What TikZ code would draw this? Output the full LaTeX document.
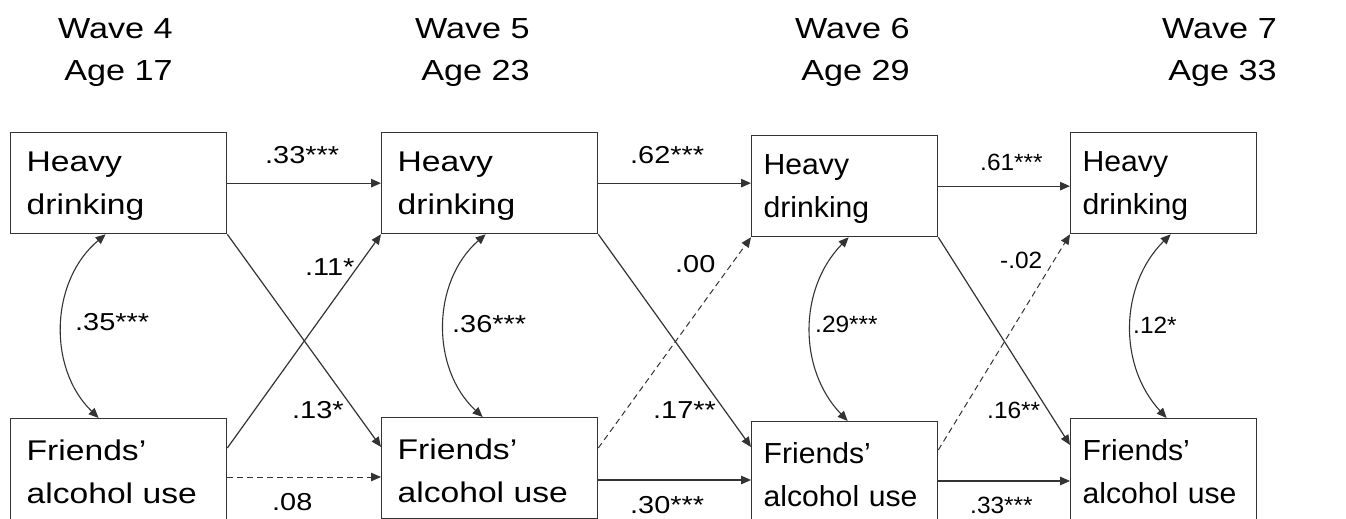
\documentclass[tikz,border=0pt]{standalone}
\usepackage{fontspec}
\setmainfont{Liberation Sans}[FakeStretch=1.18, Ligatures=TeX]
\newfontfamily\narrowsans{Liberation Sans}[FakeStretch=1.04, Ligatures=TeX]
\usetikzlibrary{arrows.meta,calc}

% a little head room above the first line of a box label
\newcommand{\toproom}{\rule{0pt}{25pt}}

\tikzset{
  ink/.style={draw=black!80, line width=1.3pt},
  wide box/.style={ink, rectangle, anchor=north west, inner xsep=16pt, inner ysep=0pt,
    text width=184pt, minimum height=101pt, align=left,
    font=\fontsize{28.5}{43}\selectfont},
  slim box/.style={wide box, inner xsep=12pt, text width=162pt,
    font=\narrowsans\fontsize{29}{43}\selectfont},
  head/.style={anchor=base east, inner sep=0pt, font=\fontsize{29}{35}\selectfont},
  coef/.style={anchor=base west, inner sep=0pt, font=\fontsize{24.5}{28}\selectfont},
  coefR/.style={coef, font=\narrowsans\fontsize{23.5}{28}\selectfont},
  tip/.tip={Triangle[length=10pt,width=8.5pt]},
  path/.style={ink, line width=1.2pt, -tip},
  weak/.style={path, dash pattern=on 6pt off 4pt, line width=1pt},
  corr/.style={ink, line width=1.1pt, tip-tip},
}

\begin{document}
\begin{tikzpicture}[x=1pt, y=1pt]
\useasboundingbox (0,0) rectangle (1346,-519);
\clip (0,0) rectangle (1346,-519);

% column headers
\node[head] (w4) at (173,-38) {Wave 4};
\node[head] (a4) at (173,-81) {Age 17};
\node[head] (w5) at (530,-38) {Wave 5};
\node[head] (a5) at (530,-81) {Age 23};
\node[head] (w6) at (910,-38) {Wave 6};
\node[head] (a6) at (910,-81) {Age 29};
\node[head] (w7) at (1277,-38) {Wave 7};
\node[head] (a7) at (1277,-81) {Age 33};

% heavy drinking row
\node[wide box] (hd1) at (10,-132)   {\toproom Heavy\\drinking};
\node[wide box] (hd2) at (381,-132)  {\toproom Heavy\\drinking};
\node[slim box] (hd3) at (751,-135)  {\toproom Heavy\\drinking};
\node[slim box] (hd4) at (1070,-132) {\toproom Heavy\\drinking};

% friends' alcohol use row
\node[wide box] (f1) at (10,-418)   {\toproom Friends'\\alcohol use};
\node[wide box] (f2) at (381,-417)  {\toproom Friends'\\alcohol use};
\node[slim box] (f3) at (751,-421)  {\toproom Friends'\\alcohol use};
\node[slim box] (f4) at (1070,-418) {\toproom Friends'\\alcohol use};

% stability paths
\draw[path] (hd1.east) -- (hd1.east -| hd2.west);
\draw[path] (hd2.east) -- (hd2.east -| hd3.west);
\draw[path] (hd3.east) -- (hd3.east -| hd4.west);
\coordinate (f1o) at ($(f1.north east)+(0,-59)$);
\coordinate (f2o) at ($(f2.north east)+(0,-63)$);
\coordinate (f3o) at ($(f3.north east)+(0,-60)$);
\draw[weak] (f1o) -- (f1o -| f2.west);
\draw[path] (f2o) -- (f2o -| f3.west);
\draw[path] (f3o) -- (f3o -| f4.west);

% cross-lagged paths
\draw[path] (hd1.south east) -- ($(f2.north west)+(0,-30)$);
\draw[path] ($(f1.north east)+(0,-30)$) -- (hd2.south west);
\draw[path] (hd2.south east) -- ($(f3.north west)+(0,-26)$);
\draw[weak] ($(f2.north east)+(0,-31)$) -- (hd3.south west);
\draw[path] (hd3.south east) -- ($(f4.north west)+(0,-27)$);
\draw[weak] ($(f3.north east)+(0,-29)$) -- (hd4.south west);

% within-wave correlations
\draw[corr] ($(hd1.south)+(-13,0)$) to[bend right=48] ($(f1.north)+(-20,0)$);
\draw[corr] ($(hd2.south)+(-4,0)$)  to[bend right=48] ($(f2.north)+(-7,0)$);
\draw[corr] ($(hd3.south)+(4,0)$)   to[bend right=44] ($(f3.north)+(3,0)$);
\draw[corr] ($(hd4.south)+(7,0)$)   to[bend right=44] ($(f4.north)+(3,0)$);

% coefficients
\node[coef] (k1) at (265,-163) {.33***};
\node[coef] (k2) at (75,-330)  {.35***};
\node[coef] (k3) at (305,-275) {.11*};
\node[coef] (k4) at (292,-418) {.13*};
\node[coef] (k5) at (272,-510) {.08};
\node[coef] (k6) at (630,-163) {.62***};
\node[coef] (k7) at (452,-332) {.36***};
\node[coef] (k8) at (675,-272) {.00};
\node[coef] (k9) at (653,-418) {.17**};
\node[coef] (k10) at (630,-513) {.30***};
\node[coefR] (k11) at (980,-170) {.61***};
\node[coefR] (k12) at (1000,-268) {-.02};
\node[coefR] (k13) at (815,-332) {.29***};
\node[coefR] (k14) at (1133,-333) {.12*};
\node[coefR] (k15) at (987,-418) {.16**};
\node[coefR] (k16) at (970,-513) {.33***};
\end{tikzpicture}
\end{document}
